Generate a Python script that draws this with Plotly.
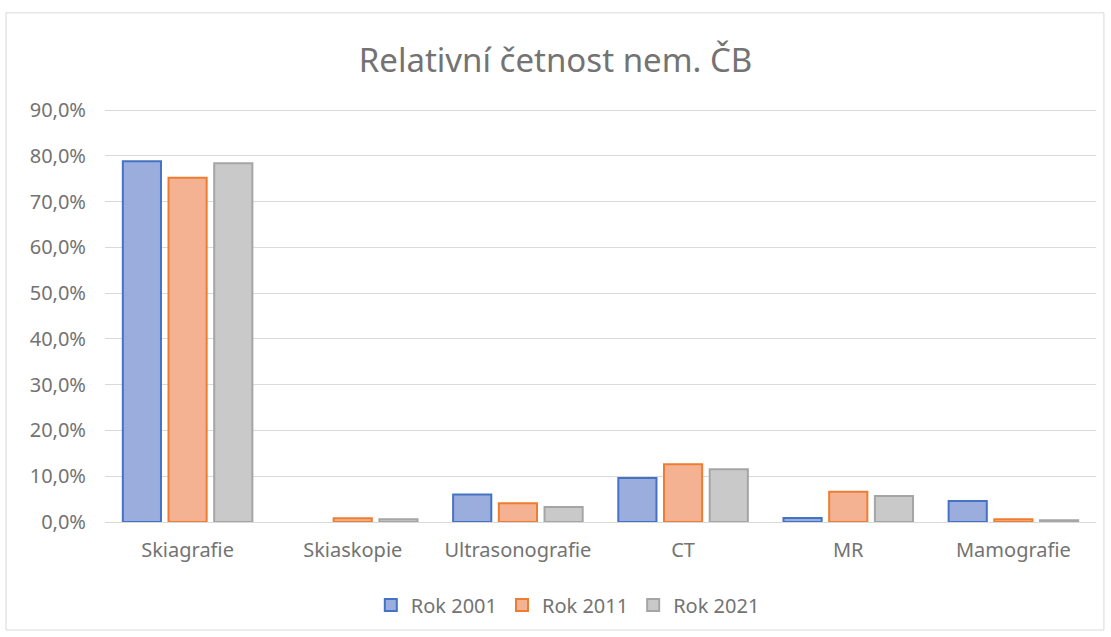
import plotly.graph_objects as go

# data (relative frequency, fractions)
categories = ['Skiagrafie', 'Skiaskopie', 'Ultrasonografie', 'CT', 'MR', 'Mamografie']
rok_2001 = [0.788, None, 0.060, 0.096, 0.009, 0.046]
rok_2011 = [0.752, 0.008, 0.041, 0.126, 0.066, 0.006]
rok_2021 = [0.784, 0.006, 0.033, 0.115, 0.057, 0.004]

series = [
    ('Rok 2001', rok_2001, '#9BADDD', '#4472C4'),
    ('Rok 2011', rok_2011, '#F5B292', '#ED7D31'),
    ('Rok 2021', rok_2021, '#C9C9C9', '#A5A5A5'),
]

txt = '#737373'

fig = go.Figure()
for name, vals, fill, line in series:
    fig.add_trace(go.Bar(x=categories, y=vals, name=name,
                         marker=dict(color=fill, line=dict(color=line, width=2))))

fig.update_layout(
    width=1111, height=637,
    separators=', ',
    font=dict(family='Noto Sans', size=20, color=txt),
    title=dict(text='Relativní četnost nem. ČB', x=0.5, xanchor='center',
               y=0.905, yanchor='middle', font=dict(size=33, color=txt)),
    barmode='group', bargap=0.17, bargroupgap=0.165,
    plot_bgcolor='white', paper_bgcolor='white',
    margin=dict(l=105, r=15, t=105, b=115),
    legend=dict(orientation='h', x=0.467, xanchor='center', y=-0.199, yanchor='middle',
                font=dict(size=20, color=txt), itemwidth=30),
    yaxis=dict(range=[0, 0.911], tickvals=[0, 0.1, 0.2, 0.3, 0.4, 0.5, 0.6, 0.7, 0.8, 0.9],
               tickformat='.1%', gridcolor='#D9D9D9',
               gridwidth=1, zeroline=False, ticks='', ticklabelstandoff=18),
    xaxis=dict(showline=True, linecolor='#D9D9D9', linewidth=1, ticks='',
               ticklabelstandoff=10),
)

# chart border
fig.add_shape(type='rect', xref='paper', yref='paper',
              x0=-0.0999, x1=1.008, y0=-0.259, y1=1.221,
              line=dict(color='#D9D9D9', width=1))

fig.write_html("out.html", config={'displayModeBar': False},
               post_script="document.body.style.margin='0';")
